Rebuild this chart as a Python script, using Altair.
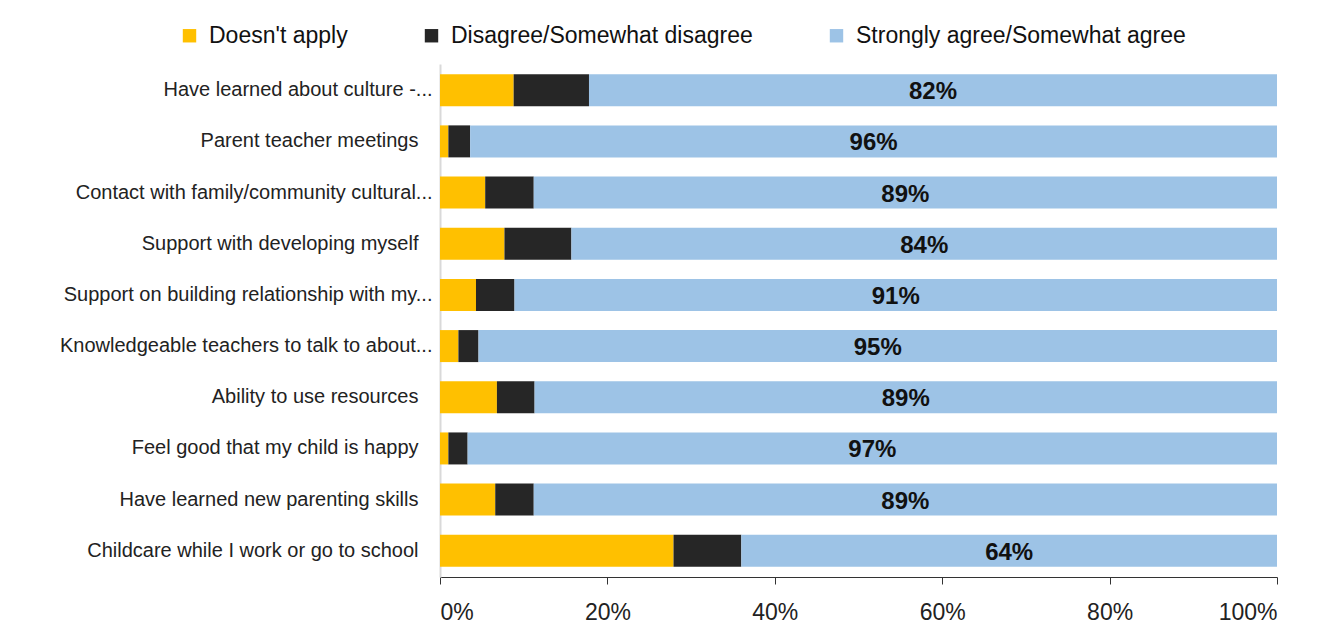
import altair as alt
import pandas as pd

categories = [
    "Have learned about culture -...",
    "Parent teacher meetings",
    "Contact with family/community cultural...",
    "Support with developing myself",
    "Support on building relationship with my...",
    "Knowledgeable teachers to talk to about...",
    "Ability to use resources",
    "Feel good that my child is happy",
    "Have learned new parenting skills",
    "Childcare while I work or go to school",
]
doesnt_apply = [8.8, 1.0, 5.4, 7.7, 4.3, 2.2, 6.8, 1.0, 6.6, 27.9]
disagree = [9.0, 2.6, 5.8, 8.0, 4.6, 2.4, 4.5, 2.3, 4.6, 8.1]
agree = [82.2, 96.4, 88.8, 84.3, 91.1, 95.4, 88.7, 96.7, 88.8, 64.0]

series = ["Doesn't apply", "Disagree/Somewhat disagree", "Strongly agree/Somewhat agree"]
colors = ["#FFC000", "#262626", "#9DC3E6"]

rows = []
for i, c in enumerate(categories):
    for j, (s, vals) in enumerate(zip(series, [doesnt_apply, disagree, agree])):
        rows.append({"category": c, "series": s, "value": vals[i], "order": j,
                     "agree": agree[i]})
df = pd.DataFrame(rows)

FONT = "Liberation Sans"

base = alt.Chart(df)

bars = base.mark_bar(size=32).encode(
    y=alt.Y("category:N", sort=categories, title=None,
            scale=alt.Scale(paddingInner=0.376, paddingOuter=0.2),
            axis=alt.Axis(domainColor="#d9d9d9", domainWidth=2, ticks=False,
                          labelFontSize=20, labelColor="#222222",
                          labelPadding={"condition": {"test": "indexof(datum.label, '...') >= 0", "value": 8}, "value": 22},
                          labelFont=FONT, labelLimit=430)),
    x=alt.X("value:Q", stack="zero", title=None,
            scale=alt.Scale(domain=[0, 100], nice=False),
            axis=alt.Axis(values=[0, 20, 40, 60, 80, 100],
                          labelExpr="datum.value + '%'",
                          domainColor="#333333", tickColor="#333333",
                          tickSize=7, labelFontSize=23, labelPadding=17,
                          labelColor="#222222", labelFont=FONT, grid=False)),
    color=alt.Color("series:N", sort=series,
                    scale=alt.Scale(domain=series, range=colors),
                    legend=alt.Legend(orient="none", direction="horizontal",
                                      legendX=-262, legendY=-40, title=None,
                                      symbolType="square", symbolSize=180,
                                      symbolStrokeWidth=0,
                                      labelFontSize=23, labelFont=FONT,
                                      labelColor="#111111", columnPadding=72,
                                      labelOffset=8, labelLimit=500)),
    order=alt.Order("order:Q"),
)

labels = base.transform_filter(
    alt.datum.order == 2
).transform_calculate(
    mid="100 - datum.agree / 2",
    txt="format(datum.agree, '.0f') + '%'",
).mark_text(fontSize=24, fontWeight="bold", color="#111111", font=FONT,
            baseline="middle", align="center", dy=2).encode(
    y=alt.Y("category:N", sort=categories),
    x=alt.X("mid:Q"),
    text="txt:N",
)

chart = (bars + labels).properties(
    width=837, height=513,
    autosize=alt.AutoSizeParams(type="none"),
    padding={"left": 432, "top": 56, "right": 40, "bottom": 58},
).configure(background="white").configure_view(strokeWidth=0, stroke=None)

chart.save("out.html", embed_options={"renderer": "svg", "actions": False})
